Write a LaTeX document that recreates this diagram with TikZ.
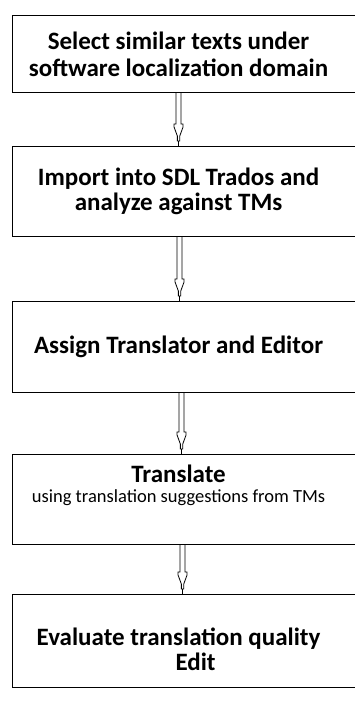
\documentclass[tikz,border=0pt]{standalone}
\usepackage{fontspec}
\setmainfont{Carlito}
\usetikzlibrary{calc}
\begin{document}
\begin{tikzpicture}[x=1pt,y=-1pt,
  stepbox/.style={draw, line width=1.1pt, minimum width=348pt, inner sep=0pt, anchor=north west, font=\bfseries\fontsize{25}{27}\selectfont},
  dblarrow/.style={draw, line width=0.8pt, to path={let \p1=(\tikztostart), \p2=(\tikztotarget) in
    (\x1-2.5pt,\y1) -- (\x1-2.5pt,\y2+22pt) -- (\x1-4.5pt,\y2+22pt) -- (\x1-4.5pt,\y2+19pt) -- (\x1-1.2pt,\y2+10pt) -- (\x1-1.2pt,\y2+5pt)
    -- (\x1+1.2pt,\y2+5pt) -- (\x1+1.2pt,\y2+10pt) -- (\x1+4.5pt,\y2+19pt) -- (\x1+4.5pt,\y2+22pt) -- (\x1+2.5pt,\y2+22pt) -- (\x1+2.5pt,\y1)
    (\x1,\y2+5pt) -- (\x1,\y2)}}
]
\useasboundingbox (0,0) rectangle (354,702);
\node[stepbox, minimum height=77pt] (b1) at (12,15)
  {\parbox{332pt}{\centering\baselineskip=27pt Select similar texts under\\software localization domain}\hspace*{16pt}};
\node[stepbox, minimum height=90pt] (b2) at (12,146)
  {\parbox{332pt}{\centering\baselineskip=25pt Import into SDL Trados and\\analyze against TMs}\hspace*{16pt}};
\node[stepbox, minimum height=91pt] (b3) at (12,301)
  {\parbox{332pt}{\centering Assign Translator and Editor}\hspace*{16pt}};
\node[stepbox, minimum height=90pt] (b4) at (12,454)
  {\raisebox{8pt}[0pt][0pt]{\parbox{332pt}{\centering\baselineskip=20pt Translate\\{\mdseries\fontsize{18.5}{20}\selectfont using translation suggestions from TMs}}}\hspace*{16pt}};
\node[stepbox, minimum height=93pt] (b5) at (12,594)
  {\raisebox{-14pt}[0pt][0pt]{\parbox{332pt}{\centering\baselineskip=25pt Evaluate translation quality\\\hspace*{34pt}Edit}}\hspace*{16pt}};
\draw[dblarrow] ([xshift=-8pt]b1.south) to ([xshift=-8pt]b2.north);
\draw[dblarrow] ([xshift=-7pt]b2.south) to ([xshift=-7pt]b3.north);
\draw[dblarrow] ([xshift=-5pt]b3.south) to ([xshift=-5pt]b4.north);
\draw[dblarrow] ([xshift=-4pt]b4.south) to ([xshift=-4pt]b5.north);
\end{tikzpicture}
\end{document}
